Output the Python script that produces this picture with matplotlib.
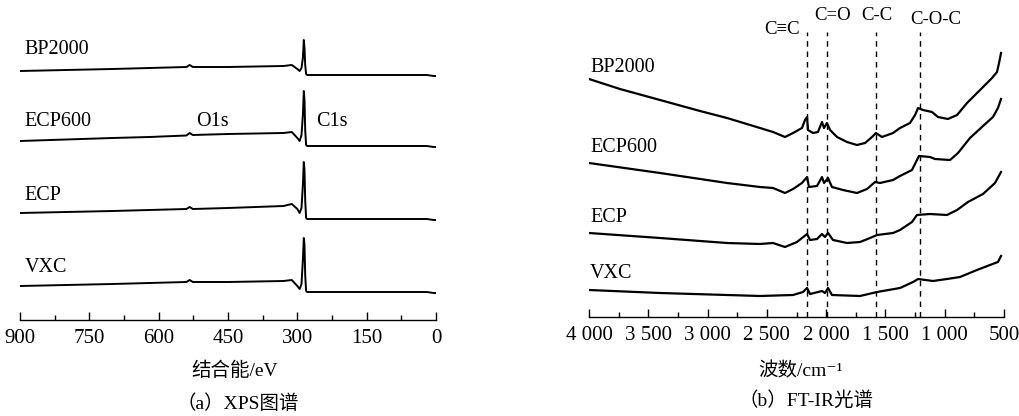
import matplotlib
matplotlib.use("Agg")
import matplotlib.pyplot as plt
from matplotlib.ticker import MultipleLocator, FuncFormatter

plt.rcParams['font.family'] = ['Liberation Serif', 'Noto Sans CJK SC', 'DejaVu Sans']

# ---- (a) XPS survey spectra (binding energy / eV, offset intensity) ----
samples = ['BP2000', 'ECP600', 'ECP', 'VXC']

xps_ev = [900, 800, 700, 620, 540, 533, 526, 450, 330, 312, 300, 295, 291, 288, 286, 284.5, 283, 281, 279, 200, 100, 20, 5, 0]
xps_bp2000 = [249, 250, 251, 252, 253, 255, 253, 253, 254, 255, 251, 249, 252, 262, 280, 272, 255, 246, 245, 245, 245, 245, 244, 244]
xps_ecp600 = [179, 180.5, 182, 183, 184.5, 187, 185, 186, 187, 188, 182, 179, 185, 205, 229, 220, 190, 175, 174, 174, 174, 174, 173, 173]
xps_ecp = [107, 108, 109, 110, 111, 113, 111, 112, 114, 116, 111, 107, 112, 135, 158, 150, 120, 102, 101, 101, 101, 101, 100, 100]
xps_vxc = [34, 35, 36, 37, 38, 40, 38, 38, 39, 40, 34, 31, 36, 60, 82, 75, 45, 29, 28, 28, 28, 28, 27, 27]

# ---- (b) FT-IR spectra (wavenumber / cm-1, offset transmittance) ----
ir_bp_wn = [4000, 3739, 3401, 3064, 2836, 2558, 2448, 2347, 2279, 2204, 2178, 2161, 2153, 2111, 2069, 2035, 2018, 1993,
            1967, 1908, 1824, 1740, 1672, 1613, 1580, 1529, 1436, 1377, 1293, 1250, 1225, 1183, 1107, 1057, 973, 896,
            812, 702, 601, 559, 542, 525]
ir_bp = [238, 228, 217, 206, 199, 189, 185, 180, 184, 189, 197, 200, 187, 184, 185, 195, 189, 194,
         187, 180, 175, 172, 174, 180, 184, 180, 184, 189, 194, 202, 209, 207, 205, 200, 198, 202,
         214, 227, 239, 245, 254, 264]

ir_ecp600_wn = [4000, 3401, 2836, 2558, 2448, 2347, 2279, 2204, 2161, 2145, 2077, 2035, 2018, 1984, 1951, 1858, 1740,
                1655, 1588, 1546, 1436, 1377, 1276, 1234, 1217, 1124, 1082, 955, 888, 787, 677, 593, 551, 525]
ir_ecp600 = [154, 144, 134, 130, 129, 124, 128, 134, 140, 130, 131, 140, 134, 139, 130, 127, 124,
             128, 135, 134, 137, 141, 147, 157, 161, 160, 158, 157, 164, 179, 191, 200, 209, 218]

ir_ecp_wn = [4000, 3401, 2836, 2558, 2448, 2347, 2246, 2161, 2136, 2077, 2035, 2010, 1984, 1942, 1824, 1714, 1630,
             1571, 1436, 1377, 1276, 1234, 1124, 981, 896, 804, 677, 576, 525]
ir_ecp = [84, 79, 74, 73, 74, 70, 75, 83, 77, 78, 83, 80, 84, 77, 74, 75, 79,
          82, 84, 87, 95, 102, 103, 102, 107, 115, 123, 134, 145]

ir_vxc_wn = [4000, 3401, 2836, 2558, 2279, 2195, 2161, 2136, 2035, 2010, 1984, 1951, 1714, 1571, 1377, 1267, 1225,
             1099, 981, 871, 728, 618, 551, 525]
ir_vxc = [27, 24, 22, 21, 22, 25, 29, 23, 26, 24, 29, 22, 21, 25, 29, 35, 38,
          36, 38, 40, 47, 52, 55, 61]

bond_labels = ['C≡C', 'C=O', 'C-C', 'C-O-C']
bond_wn = [2164, 1990, 1580, 1208]

fig = plt.figure(figsize=(10.2, 4.16), dpi=100)

# left panel: XPS
ax1 = fig.add_axes([20 / 1020, 96 / 416, 416 / 1020, 290 / 416])
for ys in [xps_bp2000, xps_ecp600, xps_ecp, xps_vxc]:
    ax1.plot(xps_ev, ys, color='black', lw=1.4)
ax1.set_xlim(900, 0)
ax1.set_ylim(0, 290)
ax1.xaxis.set_major_locator(MultipleLocator(150))
ax1.xaxis.set_minor_locator(MultipleLocator(75))
for ytxt, name in zip([270, 198, 125, 52], samples):
    ax1.text(890, ytxt, name, fontsize=14.5, va='center', ha='left')
ax1.text(484, 198, 'O1s', fontsize=14.5, va='center', ha='center')
ax1.text(260, 198, 'C1s', fontsize=14.5, va='center', ha='left')

# right panel: FT-IR
ax2 = fig.add_axes([589 / 1020, 99 / 416, 415 / 1020, 287 / 416])
for wn, ys in [(ir_bp_wn, ir_bp), (ir_ecp600_wn, ir_ecp600), (ir_ecp_wn, ir_ecp), (ir_vxc_wn, ir_vxc)]:
    ax2.plot(wn, ys, color='black', lw=1.6)
ax2.set_xlim(4000, 500)
ax2.set_ylim(0, 287)
ax2.xaxis.set_major_locator(MultipleLocator(500))
ax2.xaxis.set_minor_locator(MultipleLocator(250))
ax2.xaxis.set_major_formatter(FuncFormatter(lambda v, p: f'{int(v):,}'.replace(',', ' ')))
for wn in bond_wn:
    ax2.plot([wn, wn], [0, 285], color='black', lw=1.0, ls=(0, (4, 3.5)))
label_pos = [(2372, 287), (1942, 301), (1571, 301), (1073, 297)]
for (lx, ly), txt in zip(label_pos, bond_labels):
    ax2.text(lx, ly, txt, fontsize=13.5, ha='center', va='center', clip_on=False)
for ytxt, name in zip([249, 169, 99, 44], samples):
    ax2.text(3990, ytxt, name, fontsize=14.5, va='center', ha='left')

for ax in (ax1, ax2):
    for s in ['top', 'left', 'right']:
        ax.spines[s].set_visible(False)
    ax.spines['bottom'].set_linewidth(1.0)
    ax.set_yticks([])
    ax.tick_params(axis='x', which='major', direction='in', length=6, width=1.0, labelsize=15, pad=6.5)
    ax.tick_params(axis='x', which='minor', direction='in', length=3.5, width=1.0)

fig.text(235 / 1020, 1 - 371 / 416, '结合能/eV', fontsize=14, ha='center', va='center')
fig.text(238 / 1020, 1 - 404 / 416, '（a）XPS图谱', fontsize=14, ha='center', va='center')
fig.text(801 / 1020, 1 - 371 / 416, '波数/cm⁻¹', fontsize=14, ha='center', va='center')
fig.text(806 / 1020, 1 - 401 / 416, '（b）FT-IR光谱', fontsize=14, ha='center', va='center')

fig.savefig('out.png', dpi=100)
